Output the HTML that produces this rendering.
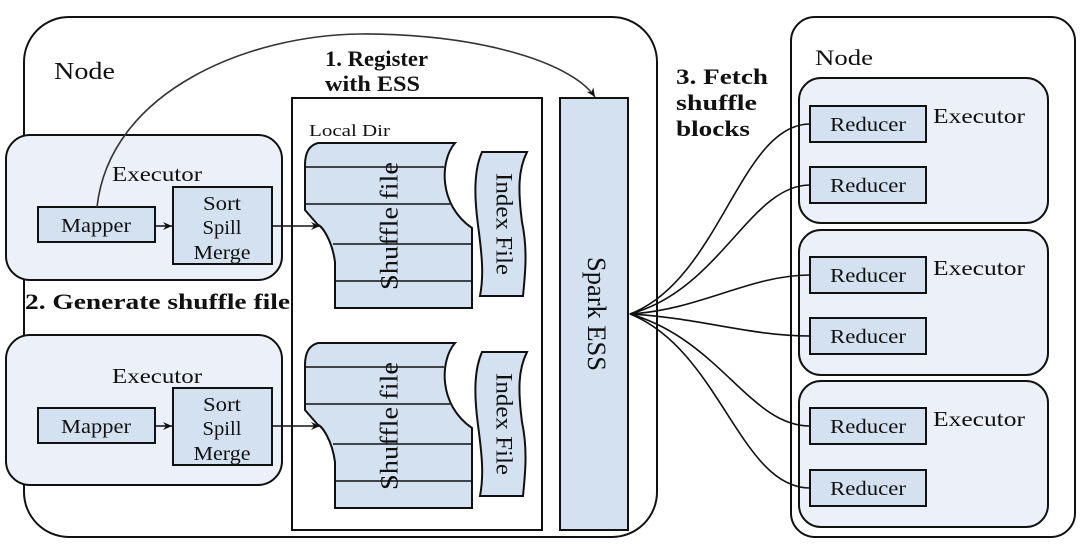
<!DOCTYPE html>
<html><head><meta charset="utf-8"><style>
html,body{margin:0;padding:0;background:#fff;}
svg{display:block;}
text{font-family:"Liberation Serif","DejaVu Serif",serif;fill:#111;}
.b{font-weight:bold;}
</style></head><body>
<svg width="1080" height="549" viewBox="0 0 1080 549" xmlns="http://www.w3.org/2000/svg">
<defs>
<marker id="ar" markerWidth="10" markerHeight="10" refX="9" refY="5" orient="auto" markerUnits="userSpaceOnUse">
<path d="M0,1 L9,5 L0,9 L3,5 Z" fill="#111"/>
</marker>
<g id="shuf">
<path d="M318,143 L455,143 C440,160 438,205 472,228 L472,308 L335,308 L335,262 C332,240 322,226 318,225 L305,210 L305,165 C305,152 310,145 318,143 Z" fill="#d3e1f0" stroke="#111" stroke-width="2"/>
<g stroke="#111" stroke-width="1.5">
<line x1="305" y1="167" x2="444" y2="167"/>
<line x1="305" y1="204" x2="450" y2="204"/>
<line x1="333" y1="244" x2="472" y2="244"/>
<line x1="335" y1="281" x2="472" y2="281"/>
</g>
<text transform="translate(392,226) rotate(-90)" text-anchor="middle" dominant-baseline="middle" font-size="25" textLength="128" lengthAdjust="spacingAndGlyphs">Shuffle file</text>
<path d="M482,152 L527,152 C518,170 518,190 522,222 C528,250 525,275 523,296 L480,296 C484,275 482,255 478,225 C474,195 474,170 482,152 Z" fill="#d3e1f0" stroke="#111" stroke-width="2"/>
<text transform="translate(502,224) rotate(90)" text-anchor="middle" dominant-baseline="middle" font-size="23" textLength="102" lengthAdjust="spacingAndGlyphs">Index File</text>
</g>
</defs>

<rect x="24" y="17" width="633" height="520" rx="45" fill="#fff" stroke="#111" stroke-width="2"/>
<text x="54" y="79" font-size="24" textLength="61" lengthAdjust="spacingAndGlyphs">Node</text>
<text x="325" y="66" font-size="22" class="b" textLength="103" lengthAdjust="spacingAndGlyphs">1. Register</text>
<text x="325" y="91" font-size="22" class="b" textLength="95" lengthAdjust="spacingAndGlyphs">with ESS</text>

<rect x="292" y="98" width="250" height="432" fill="#fff" stroke="#111" stroke-width="2"/>
<text x="309" y="136" font-size="17" textLength="81" lengthAdjust="spacingAndGlyphs">Local Dir</text>
<use href="#shuf"/>
<use href="#shuf" transform="translate(0,200)"/>

<rect x="560" y="98" width="68" height="432" fill="#d3e1f0" stroke="#111" stroke-width="2"/>
<text transform="translate(594,314) rotate(90)" text-anchor="middle" dominant-baseline="middle" font-size="26" textLength="114" lengthAdjust="spacingAndGlyphs">Spark ESS</text>

<rect x="6" y="135" width="276" height="145" rx="24" fill="#ecf1f9" stroke="#111" stroke-width="2"/>
<text x="112" y="181" font-size="21" textLength="90" lengthAdjust="spacingAndGlyphs">Executor</text>
<rect x="38" y="207" width="117" height="35" fill="#d3e1f0" stroke="#111" stroke-width="2"/>
<text x="96" y="232" font-size="20" text-anchor="middle" textLength="70" lengthAdjust="spacingAndGlyphs">Mapper</text>
<rect x="173" y="187" width="99" height="77" fill="#d3e1f0" stroke="#111" stroke-width="2"/>
<text x="222" y="210" font-size="20" text-anchor="middle" textLength="38" lengthAdjust="spacingAndGlyphs">Sort</text>
<text x="222" y="234" font-size="20" text-anchor="middle" textLength="39" lengthAdjust="spacingAndGlyphs">Spill</text>
<text x="222" y="259" font-size="20" text-anchor="middle" textLength="57" lengthAdjust="spacingAndGlyphs">Merge</text>
<line x1="155" y1="226" x2="172" y2="226" stroke="#111" stroke-width="1.5" marker-end="url(#ar)"/>
<line x1="272" y1="226" x2="320" y2="226" stroke="#111" stroke-width="1.5" marker-end="url(#ar)"/>

<text x="25" y="309" font-size="22" class="b" textLength="265" lengthAdjust="spacingAndGlyphs">2. Generate shuffle file</text>

<rect x="6" y="335" width="276" height="150" rx="24" fill="#ecf1f9" stroke="#111" stroke-width="2"/>
<text x="112" y="383" font-size="21" textLength="90" lengthAdjust="spacingAndGlyphs">Executor</text>
<rect x="38" y="408" width="117" height="35" fill="#d3e1f0" stroke="#111" stroke-width="2"/>
<text x="96" y="433" font-size="20" text-anchor="middle" textLength="70" lengthAdjust="spacingAndGlyphs">Mapper</text>
<rect x="173" y="388" width="99" height="77" fill="#d3e1f0" stroke="#111" stroke-width="2"/>
<text x="222" y="411" font-size="20" text-anchor="middle" textLength="38" lengthAdjust="spacingAndGlyphs">Sort</text>
<text x="222" y="435" font-size="20" text-anchor="middle" textLength="39" lengthAdjust="spacingAndGlyphs">Spill</text>
<text x="222" y="460" font-size="20" text-anchor="middle" textLength="57" lengthAdjust="spacingAndGlyphs">Merge</text>
<line x1="155" y1="426" x2="172" y2="426" stroke="#111" stroke-width="1.5" marker-end="url(#ar)"/>
<line x1="272" y1="426" x2="320" y2="426" stroke="#111" stroke-width="1.5" marker-end="url(#ar)"/>

<path d="M97,207 C110,90 250,35 360,34 C470,33 570,60 595,97" fill="none" stroke="#333" stroke-width="1.6" marker-end="url(#ar)"/>

<text x="676" y="84" font-size="22" class="b" textLength="92" lengthAdjust="spacingAndGlyphs">3. Fetch</text>
<text x="676" y="110" font-size="22" class="b" textLength="81" lengthAdjust="spacingAndGlyphs">shuffle</text>
<text x="676" y="136" font-size="22" class="b" textLength="74" lengthAdjust="spacingAndGlyphs">blocks</text>

<rect x="791" y="17" width="284" height="520" rx="24" fill="#fff" stroke="#111" stroke-width="2"/>
<text x="815" y="65" font-size="22" textLength="58" lengthAdjust="spacingAndGlyphs">Node</text>

<rect x="799" y="78" width="249" height="145" rx="22" fill="#ecf1f9" stroke="#111" stroke-width="2"/>
<rect x="799" y="230" width="249" height="145" rx="22" fill="#ecf1f9" stroke="#111" stroke-width="2"/>
<rect x="799" y="381" width="249" height="146" rx="22" fill="#ecf1f9" stroke="#111" stroke-width="2"/>
<text x="933" y="123" font-size="21" textLength="92" lengthAdjust="spacingAndGlyphs">Executor</text>
<text x="933" y="275" font-size="21" textLength="92" lengthAdjust="spacingAndGlyphs">Executor</text>
<text x="933" y="426" font-size="21" textLength="92" lengthAdjust="spacingAndGlyphs">Executor</text>

<g fill="#d3e1f0" stroke="#111" stroke-width="2">
<rect x="810" y="106" width="116" height="36"/>
<rect x="810" y="167" width="116" height="36"/>
<rect x="810" y="257" width="116" height="36"/>
<rect x="810" y="318" width="116" height="36"/>
<rect x="810" y="408" width="116" height="36"/>
<rect x="810" y="470" width="116" height="36"/>
</g>
<g font-size="20" text-anchor="middle">
<text x="868" y="131" textLength="76" lengthAdjust="spacingAndGlyphs">Reducer</text>
<text x="868" y="192" textLength="76" lengthAdjust="spacingAndGlyphs">Reducer</text>
<text x="868" y="282" textLength="76" lengthAdjust="spacingAndGlyphs">Reducer</text>
<text x="868" y="343" textLength="76" lengthAdjust="spacingAndGlyphs">Reducer</text>
<text x="868" y="433" textLength="76" lengthAdjust="spacingAndGlyphs">Reducer</text>
<text x="868" y="495" textLength="76" lengthAdjust="spacingAndGlyphs">Reducer</text>
</g>

<g fill="none" stroke="#111" stroke-width="1.6">
<path d="M810,124 C740,124 720,280 630,314"/>
<path d="M810,185 C750,185 720,290 630,314"/>
<path d="M810,275 C750,275 700,310 630,314"/>
<path d="M810,336 C750,336 700,318 630,314"/>
<path d="M810,426 C750,426 720,340 630,314"/>
<path d="M810,488 C740,488 720,350 630,314"/>
</g>
<path d="M629,314 L640,309 L637,314 L640,319 Z" fill="#111"/>
</svg>
</body></html>
